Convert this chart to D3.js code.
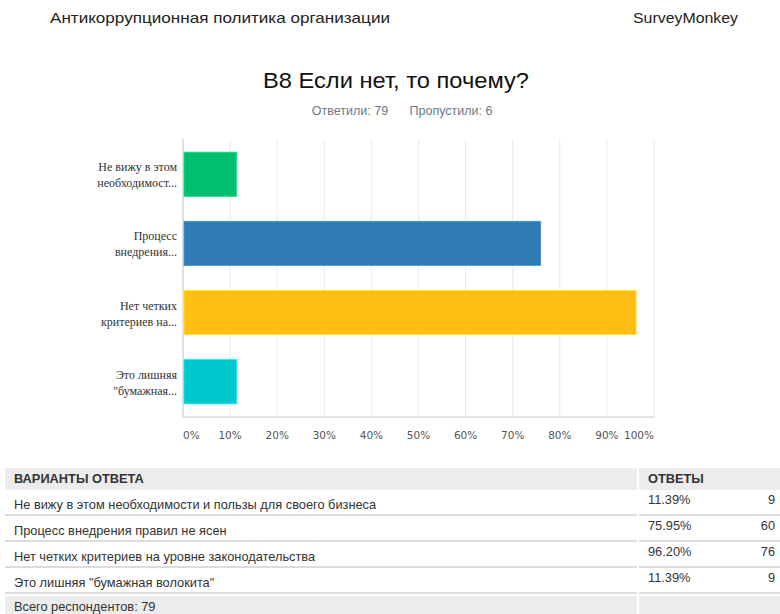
<!DOCTYPE html>
<html>
<head>
<meta charset="UTF-8">
<title>B8 Если нет, то почему?</title>
<script src="https://d3js.org/d3.v7.min.js"></script>
<style>
    body { margin: 0; background: #fff; }
    svg { display: block; }
    .sans { font-family: "Liberation Sans", Arial, sans-serif; }
    .cat-label { font-family: "Liberation Serif", "DejaVu Serif", serif; font-size: 12px; fill: #333; }
    .tick-label { font-family: "DejaVu Sans", sans-serif; font-size: 10.5px; fill: #555; }
</style>
</head>
<body>
<script>
    // data
    const shortLabels = [
        ["Не вижу в этом", "необходимост..."],
        ["Процесс", "внедрения..."],
        ["Нет четких", "критериев на..."],
        ["Это лишняя", "\"бумажная..."]
    ];
    const fullLabels = [
        "Не вижу в этом необходимости и пользы для своего бизнеса",
        "Процесс внедрения правил не ясен",
        "Нет четких критериев на уровне законодательства",
        "Это лишняя \"бумажная волокита\""
    ];
    const percents = [11.39, 75.95, 96.20, 11.39];
    const counts = [9, 60, 76, 9];
    const barColors = ["#00bf6f", "#2f7bb4", "#febe14", "#00c7cb"];
    const xTicks = [0, 10, 20, 30, 40, 50, 60, 70, 80, 90, 100];
    const answered = 79, skipped = 6;

    const width = 780, height = 614;
    const svg = d3.select("body").append("svg")
        .attr("width", width).attr("height", height);

    // page header
    svg.append("text").attr("class", "sans")
        .attr("x", 50).attr("y", 23)
        .attr("font-size", 15).attr("fill", "#222")
        .attr("textLength", 340).attr("lengthAdjust", "spacingAndGlyphs")
        .text("Антикоррупционная политика организации");
    svg.append("text").attr("class", "sans")
        .attr("x", 633).attr("y", 23)
        .attr("font-size", 15).attr("fill", "#222")
        .attr("textLength", 105).attr("lengthAdjust", "spacingAndGlyphs")
        .text("SurveyMonkey");

    svg.append("text").attr("class", "sans")
        .attr("x", 263).attr("y", 88)
        .attr("font-size", 22.5).attr("fill", "#111")
        .attr("textLength", 266).attr("lengthAdjust", "spacingAndGlyphs")
        .text("B8 Если нет, то почему?");
    svg.append("text").attr("class", "sans")
        .attr("x", 350).attr("y", 115).attr("text-anchor", "middle")
        .attr("font-size", 12.5).attr("fill", "#6b7a86")
        .text("Ответили: " + answered);
    svg.append("text").attr("class", "sans")
        .attr("x", 451).attr("y", 115).attr("text-anchor", "middle")
        .attr("font-size", 12.5).attr("fill", "#6b7a86")
        .text("Пропустили: " + skipped);

    // chart
    const plotLeft = 183, plotRight = 654, plotTop = 139, plotBottom = 417;
    const x = d3.scaleLinear().domain([0, 100]).range([plotLeft, plotRight]);
    const y = d3.scaleBand().domain(d3.range(percents.length))
        .range([plotTop, plotBottom]).paddingInner(0.36).paddingOuter(0.19);

    svg.append("g").selectAll("line")
        .data(xTicks.slice(1))
        .join("line")
        .attr("x1", d => x(d)).attr("x2", d => x(d))
        .attr("y1", plotTop).attr("y2", plotBottom)
        .attr("stroke", "#ebebeb").attr("stroke-width", 1);

    svg.append("line")
        .attr("x1", plotLeft).attr("x2", plotLeft).attr("y1", plotTop).attr("y2", plotBottom + 1)
        .attr("stroke", "#e0e0e0").attr("stroke-width", 2);
    svg.append("line")
        .attr("x1", plotLeft).attr("x2", plotRight + 1).attr("y1", plotBottom).attr("y2", plotBottom)
        .attr("stroke", "#e3e3e3").attr("stroke-width", 2);

    svg.append("g").selectAll("rect")
        .data(percents)
        .join("rect")
        .attr("x", x(0) + 1)
        .attr("y", (d, i) => y(i))
        .attr("width", d => x(d) - x(0) - 1)
        .attr("height", y.bandwidth())
        .attr("fill", (d, i) => barColors[i])
        .attr("stroke", (d, i) => d3.color(barColors[i]).brighter(0.6))
        .attr("stroke-width", 0.8);

    const cats = svg.append("g").selectAll("text")
        .data(shortLabels)
        .join("text")
        .attr("class", "cat-label")
        .attr("text-anchor", "end")
        .attr("x", 177)
        .attr("y", (d, i) => y(i) + y.bandwidth() / 2 - 3);
    cats.selectAll("tspan")
        .data(d => d)
        .join("tspan")
        .attr("x", 177)
        .attr("dy", (d, i) => i === 0 ? 0 : 16)
        .text(d => d);

    svg.append("g").selectAll("text")
        .data(xTicks)
        .join("text")
        .attr("class", "tick-label")
        .attr("x", d => x(d))
        .attr("y", 439)
        .attr("text-anchor", d => d === 0 ? "start" : d === 100 ? "end" : "middle")
        .text(d => d + "%");

    // table
    const tblLeft = 5, colDiv = 638, tblRight = 780;
    const headTop = 468, rowH = 26, headH = 22;
    const rowTops = fullLabels.map((d, i) => headTop + headH + i * rowH);

    svg.append("rect").attr("x", tblLeft).attr("y", headTop)
        .attr("width", tblRight - tblLeft).attr("height", headH).attr("fill", "#ececec");
    svg.append("line").attr("x1", colDiv).attr("x2", colDiv)
        .attr("y1", headTop).attr("y2", headTop + headH).attr("stroke", "#fff").attr("stroke-width", 2);
    svg.append("text").attr("class", "sans")
        .attr("x", 14).attr("y", headTop + 15).attr("font-size", 12.8).attr("font-weight", "bold")
        .attr("fill", "#333").text("ВАРИАНТЫ ОТВЕТА");
    svg.append("text").attr("class", "sans")
        .attr("x", 648).attr("y", headTop + 15).attr("font-size", 12.8).attr("font-weight", "bold")
        .attr("fill", "#333").text("ОТВЕТЫ");

    const rows = svg.append("g").selectAll("g")
        .data(fullLabels)
        .join("g")
        .attr("transform", (d, i) => `translate(0,${rowTops[i]})`);
    rows.append("line")
        .attr("x1", tblLeft).attr("x2", colDiv - 1).attr("y1", rowH - 1).attr("y2", rowH - 1)
        .attr("stroke", "#dcdcdc").attr("stroke-width", 2);
    rows.append("line")
        .attr("x1", colDiv + 1).attr("x2", tblRight).attr("y1", rowH - 1).attr("y2", rowH - 1)
        .attr("stroke", "#dcdcdc").attr("stroke-width", 2);
    rows.append("text").attr("class", "sans")
        .attr("x", 14).attr("y", 19).attr("font-size", 12.8).attr("fill", "#333")
        .text(d => d);
    rows.append("text").attr("class", "sans")
        .attr("x", 648).attr("y", 14).attr("font-size", 12.8).attr("fill", "#333")
        .text((d, i) => percents[i].toFixed(2) + "%");
    rows.append("text").attr("class", "sans")
        .attr("x", 775).attr("y", 14).attr("font-size", 12.8).attr("fill", "#333")
        .attr("text-anchor", "end")
        .text((d, i) => counts[i]);

    const footTop = headTop + headH + fullLabels.length * rowH + 2;
    svg.append("rect").attr("x", tblLeft).attr("y", footTop)
        .attr("width", colDiv - 1 - tblLeft).attr("height", height - footTop).attr("fill", "#ececec");
    svg.append("rect").attr("x", colDiv + 1).attr("y", footTop)
        .attr("width", tblRight - colDiv - 1).attr("height", height - footTop).attr("fill", "#ececec");
    svg.append("text").attr("class", "sans")
        .attr("x", 14).attr("y", footTop + 15).attr("font-size", 12.8).attr("fill", "#333")
        .text("Всего респондентов: " + answered);
</script>
</body>
</html>
